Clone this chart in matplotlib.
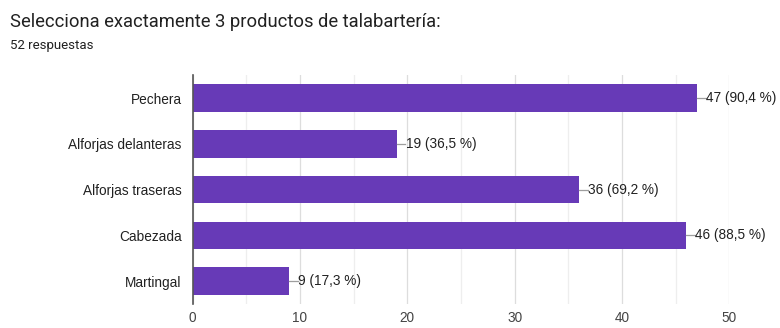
import matplotlib.pyplot as plt
import numpy as np

plt.rcParams['font.family'] = ['Liberation Sans', 'DejaVu Sans']

# Data
categories = ["Pechera", "Alforjas delanteras", "Alforjas traseras", "Cabezada", "Martingal"]
counts = [47, 19, 36, 46, 9]
percents = ["90,4", "36,5", "69,2", "88,5", "17,3"]
total_responses = 52

bar_color = "#673AB7"
text_color = "#212121"

fig = plt.figure(figsize=(7.8, 3.28), dpi=100)
ax = fig.add_axes([0.247, 0.073, 0.688, 0.698])

y = np.arange(len(categories))
ax.barh(y, counts, height=0.6, color=bar_color, zorder=3)

# labels with small leader line
for yi, c, p in zip(y, counts, percents):
    ax.plot([c, c + 0.8], [yi, yi], color="#9e9e9e", lw=0.9, zorder=3, clip_on=False)
    ax.text(c + 0.85, yi, f"{c} ({p} %)", va="center", ha="left",
            fontsize=9.8, color=text_color)

ax.set_xlim(0, 50)
ax.set_ylim(len(categories) - 0.5, -0.5)
ax.set_yticks(y)
ax.set_yticklabels(categories, fontsize=9.8, color=text_color)
ax.set_xticks(np.arange(0, 51, 10))
ax.set_xticks(np.arange(5, 50, 10), minor=True)
ax.tick_params(axis="x", labelsize=9.8, colors="#444444", length=0, pad=5)
ax.tick_params(axis="y", length=0, pad=8)
ax.tick_params(which="minor", length=0)
ax.grid(axis="x", which="major", color="#dddddd", lw=0.9, zorder=0)
ax.grid(axis="x", which="minor", color="#eeeeee", lw=0.9, zorder=0)
for s in ["top", "right", "bottom"]:
    ax.spines[s].set_visible(False)
ax.spines["left"].set_color("#555555")
ax.spines["left"].set_linewidth(1.2)
ax.spines["left"].set_zorder(4)

fig.text(10 / 780, 1 - 22 / 328, "Selecciona exactamente 3 productos de talabartería:",
         fontsize=13.2, color=text_color, va="center", ha="left",
         family=['Roboto', 'DejaVu Sans'])
fig.text(10 / 780, 1 - 45 / 328, f"{total_responses} respuestas",
         fontsize=9.5, color=text_color, va="center", ha="left",
         family=['Roboto', 'DejaVu Sans'])

fig.savefig("out.png", dpi=100)
